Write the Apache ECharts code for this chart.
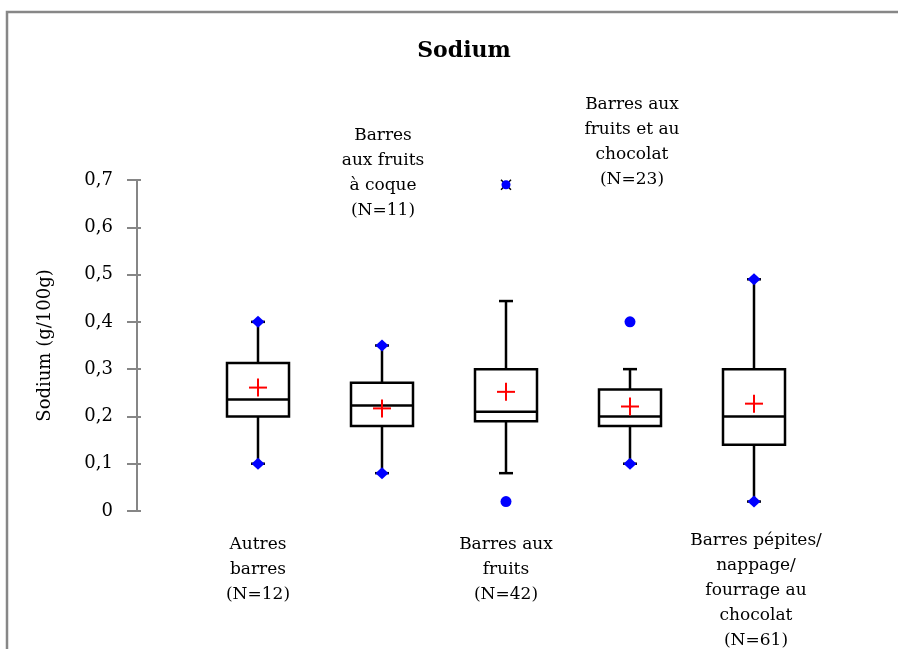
<!DOCTYPE html>
<html>
<head>
<meta charset="utf-8">
<script src="https://cdn.jsdelivr.net/npm/echarts@6/dist/echarts.min.js"></script>
<style>html,body{margin:0;padding:0;background:#fff}#c{width:898px;height:649px}</style>
</head>
<body>
<div id="c"></div>
<script>
// ---- data ----
var categories = ['Autres barres', 'Barres aux fruits à coque', 'Barres aux fruits', 'Barres aux fruits et au chocolat', 'Barres pépites/nappage/fourrage au chocolat'];
var labelTexts = ['Autres\nbarres\n(N=12)', 'Barres\naux fruits\nà coque\n(N=11)', 'Barres aux\nfruits\n(N=42)', 'Barres aux\nfruits et au\nchocolat\n(N=23)', 'Barres pépites/\nnappage/\nfourrage au\nchocolat\n(N=61)'];
var whiskerLow  = [0.10, 0.08, 0.08, 0.10, 0.02];
var q1Values    = [0.200, 0.180, 0.190, 0.180, 0.140];
var medians     = [0.236, 0.223, 0.210, 0.200, 0.200];
var q3Values    = [0.313, 0.271, 0.300, 0.257, 0.300];
var whiskerHigh = [0.40, 0.35, 0.444, 0.30, 0.49];
var means       = [0.261, 0.217, 0.252, 0.221, 0.227];
var minimums    = [0.10, 0.08, 0.02, 0.10, 0.02];
var maximums    = [0.40, 0.35, 0.69, 0.40, 0.49];
var outliers    = [[2, 0.02], [3, 0.40]];
var extremes    = [[2, 0.69]];
var yTicks      = [0, 0.1, 0.2, 0.3, 0.4, 0.5, 0.6, 0.7];

// ---- build ----
var boxData = categories.map(function (c, i) {
  return [i, whiskerLow[i], q1Values[i], medians[i], q3Values[i], whiskerHigh[i], means[i],
          minimums[i] === whiskerLow[i] ? 1 : 0, maximums[i] === whiskerHigh[i] ? 1 : 0];
});

function diamond(x, y) {
  return { type: 'polygon', shape: { points: [[x, y - 6], [x + 6.5, y], [x, y + 6], [x - 6.5, y]] }, style: { fill: '#0000FF' }, z2: 5 };
}

function renderBox(params, api) {
  var i = api.value(0);
  var band = api.size([1, 0])[0];
  var half = band * 0.25;
  var cap = 7;
  var pLo = api.coord([i, api.value(1)]);
  var pQ1 = api.coord([i, api.value(2)]);
  var pMed = api.coord([i, api.value(3)]);
  var pQ3 = api.coord([i, api.value(4)]);
  var pHi = api.coord([i, api.value(5)]);
  var pMean = api.coord([i, api.value(6)]);
  var x = pQ1[0];
  var ls = { stroke: '#000', lineWidth: 2.5, fill: null };
  var children = [
    { type: 'line', shape: { x1: x, y1: pQ3[1], x2: x, y2: pHi[1] }, style: ls },
    { type: 'line', shape: { x1: x, y1: pQ1[1], x2: x, y2: pLo[1] }, style: ls },
    { type: 'line', shape: { x1: x - cap, y1: pHi[1], x2: x + cap, y2: pHi[1] }, style: ls },
    { type: 'line', shape: { x1: x - cap, y1: pLo[1], x2: x + cap, y2: pLo[1] }, style: ls },
    { type: 'rect', shape: { x: x - half, y: pQ3[1], width: half * 2, height: pQ1[1] - pQ3[1] }, style: { stroke: '#000', lineWidth: 2.5, fill: '#fff' } },
    { type: 'line', shape: { x1: x - half, y1: pMed[1], x2: x + half, y2: pMed[1] }, style: ls },
    { type: 'line', shape: { x1: pMean[0] - 9, y1: pMean[1], x2: pMean[0] + 9, y2: pMean[1] }, style: { stroke: '#FF0000', lineWidth: 2 }, z2: 4 },
    { type: 'line', shape: { x1: pMean[0], y1: pMean[1] - 9, x2: pMean[0], y2: pMean[1] + 9 }, style: { stroke: '#FF0000', lineWidth: 2 }, z2: 4 }
  ];
  if (api.value(7)) children.push(diamond(x, pLo[1]));
  if (api.value(8)) children.push(diamond(x, pHi[1]));
  return { type: 'group', children: children };
}

function renderStar(params, api) {
  var p = api.coord([api.value(0), api.value(1)]);
  var bs = { stroke: '#000', lineWidth: 1.5 };
  return { type: 'group', children: [
    { type: 'line', shape: { x1: p[0] - 5, y1: p[1] - 5, x2: p[0] + 5, y2: p[1] + 5 }, style: bs },
    { type: 'line', shape: { x1: p[0] - 5, y1: p[1] + 5, x2: p[0] + 5, y2: p[1] - 5 }, style: bs },
    { type: 'circle', shape: { cx: p[0], cy: p[1], r: 4.5 }, style: { fill: '#0000FF' } }
  ] };
}

var labelPos = [[258, 532], [383, 123], [506, 532], [632, 92], [756, 528]];
var font = '17px "DejaVu Serif"';
var graphics = [
  { type: 'rect', shape: { x: 7, y: 12, width: 900, height: 700 }, style: { stroke: '#878787', lineWidth: 2.5, fill: null }, silent: true }
];
labelTexts.forEach(function (t, i) {
  graphics.push({ type: 'text', x: labelPos[i][0], y: labelPos[i][1],
    style: { text: t, font: font, fill: '#000', align: 'center', verticalAlign: 'top', lineHeight: 25 } });
});

var yAxisBase = { type: 'value', min: 0, max: 0.7, interval: 0.1, offset: 59, position: 'left', splitLine: { show: false } };

var chart = echarts.init(document.getElementById('c'));
chart.setOption({
  animation: false,
  backgroundColor: '#fff',
  title: { text: 'Sodium', left: 459, top: 35, textAlign: 'center',
    textStyle: { fontFamily: 'DejaVu Serif', fontWeight: 'bold', fontSize: 22, color: '#000' } },
  grid: { left: 196, right: 82, top: 180, bottom: 138 },
  xAxis: { type: 'category', data: categories, show: false, boundaryGap: true },
  yAxis: [
    Object.assign({}, yAxisBase, {
      name: 'Sodium (g/100g)', nameLocation: 'middle', nameGap: 83, nameRotate: 90,
      nameTextStyle: { fontFamily: 'DejaVu Serif', fontSize: 18, color: '#000' },
      axisLine: { show: true, lineStyle: { color: '#868686', width: 2 } },
      axisTick: { show: true, length: 10, lineStyle: { color: '#868686', width: 2 } },
      axisLabel: { margin: 24, fontFamily: 'DejaVu Serif', fontSize: 18, color: '#000',
        formatter: function (v) { return String(Math.round(v * 10) / 10).replace('.', ','); } }
    }),
    Object.assign({}, yAxisBase, {
      axisLine: { show: false },
      axisTick: { show: true, inside: true, length: 4, lineStyle: { color: '#868686', width: 2 } },
      axisLabel: { show: false }
    })
  ],
  graphic: graphics,
  series: [
    { type: 'custom', renderItem: renderBox, data: boxData, encode: { x: 0, y: [1, 2, 3, 4, 5] }, z: 2 },
    { type: 'scatter', data: outliers, symbol: 'circle', symbolSize: 11, itemStyle: { color: '#0000FF', opacity: 1 }, z: 3 },
    { type: 'custom', renderItem: renderStar, data: extremes, encode: { x: 0, y: 1 }, z: 3 }
  ]
});
</script>
</body>
</html>
